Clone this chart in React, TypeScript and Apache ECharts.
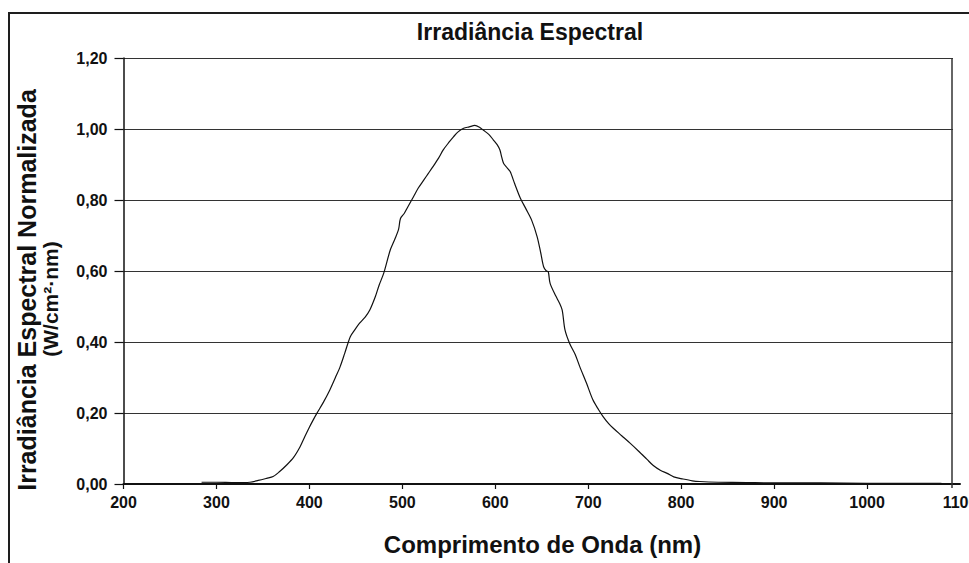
import React, { useEffect, useRef } from "react";
import * as echarts from "echarts";

const chartTitle = "Irradiância Espectral";
const xTitle = "Comprimento de Onda (nm)";
const yTitleLine1 = "Irradiância Espectral Normalizada";
const yTitleLine2 = "(W/cm²·nm)";

const xMin = 200;
const xMax = 1100;
const xStep = 100;
const yMin = 0;
const yMax = 1.2;
const yStep = 0.2;
const xTickValues = [200, 300, 400, 500, 600, 700, 800, 900, 1000];

const wavelengths = [
  284, 300, 320, 336, 345, 354, 361, 368, 375, 383, 390, 395, 400, 404, 408, 415, 422, 428, 433, 438,
  444, 449, 454, 460, 465, 471, 475, 480, 487, 492, 496, 498, 502, 506, 512, 517, 523, 528, 533, 539,
  544, 550, 555, 560, 566, 572, 578, 583, 587, 593, 598, 602, 605, 607, 609, 613, 616, 621, 627, 633,
  639, 645, 649, 652, 655, 657, 659, 665, 669, 672, 675, 680, 686, 691, 698, 705, 711, 716, 722, 727,
  736, 745, 754, 763, 770, 778, 785, 792, 802, 812, 820, 840, 870, 900, 950, 1000, 1050, 1080,
];

const irradiance = [
  0.005, 0.005, 0.004, 0.005, 0.01, 0.016, 0.021, 0.035, 0.052, 0.075, 0.105, 0.133, 0.16, 0.18, 0.199,
  0.23, 0.265, 0.3, 0.33, 0.368, 0.415, 0.435, 0.453, 0.47, 0.49, 0.528, 0.56, 0.594, 0.659, 0.69, 0.718,
  0.748, 0.762, 0.781, 0.809, 0.833, 0.856, 0.875, 0.894, 0.918, 0.941, 0.962, 0.978, 0.992, 1.002, 1.006,
  1.01, 1.005, 0.997, 0.985, 0.969, 0.956, 0.941, 0.92, 0.903, 0.89, 0.88, 0.845, 0.805, 0.775, 0.744,
  0.697, 0.65, 0.612, 0.6, 0.598, 0.565, 0.53, 0.51, 0.49, 0.434, 0.396, 0.365, 0.33, 0.285, 0.237, 0.21,
  0.19, 0.17, 0.157, 0.136, 0.115, 0.093, 0.07, 0.052, 0.038, 0.03, 0.02, 0.014, 0.009, 0.007, 0.005,
  0.004, 0.003, 0.003, 0.002, 0.002, 0.002,
];

const FONT = '"Liberation Sans", Arial, Helvetica, sans-serif';

export default function App() {
  const ref = useRef<HTMLDivElement>(null);

  useEffect(() => {
    if (!ref.current) return;
    const chart = echarts.init(ref.current, null, { renderer: "svg" });
    const data = wavelengths.map((w, i) => [w, irradiance[i]]);

    const centered = {
      align: "center",
      verticalAlign: "middle",
      textAlign: "center",
      textVerticalAlign: "middle",
    };

    chart.setOption({
      animation: false,
      backgroundColor: "#ffffff",
      grid: {
        left: 123.5,
        top: 58,
        width: 836.5,
        height: 426,
        containLabel: false,
        outerBoundsMode: "none",
      },
      xAxis: {
        type: "value",
        min: xMin,
        max: xMax,
        interval: xStep,
        axisLine: { show: true, onZero: false, lineStyle: { color: "#111", width: 2 } },
        axisTick: {
          show: true,
          inside: false,
          length: 5,
          customValues: xTickValues,
          lineStyle: { color: "#111", width: 1.2 },
        },
        axisLabel: {
          show: true,
          margin: 10,
          color: "#111",
          fontFamily: FONT,
          fontWeight: "bold",
          fontSize: 16,
          showMaxLabel: true,
          hideOverlap: false,
          formatter: (v: number) => String(Math.round(v)),
        },
        splitLine: { show: false },
      },
      yAxis: {
        type: "value",
        min: yMin,
        max: yMax,
        interval: yStep,
        axisLine: { show: true, lineStyle: { color: "#111", width: 1.5 } },
        axisTick: { show: true, inside: false, length: 9, lineStyle: { color: "#111", width: 1.2 } },
        axisLabel: {
          margin: 16,
          color: "#111",
          fontFamily: FONT,
          fontWeight: "bold",
          fontSize: 16,
          formatter: (v: number) => v.toFixed(2).replace(".", ","),
        },
        splitLine: { show: true, lineStyle: { color: "#333", width: 1.2 } },
      },
      series: [
        {
          type: "line",
          data,
          showSymbol: false,
          symbol: "none",
          smooth: 0.3,
          lineStyle: { color: "#111", width: 1.2 },
          z: 3,
        },
      ],
      graphic: [
        {
          type: "rect",
          z: 0,
          silent: true,
          shape: { x: 9, y: 13, width: 1000, height: 600 },
          style: { fill: "none", stroke: "#1e1e1e", lineWidth: 2 },
        },
        {
          type: "rect",
          z: 10,
          silent: true,
          shape: { x: 953, y: 56, width: 10, height: 427 },
          style: { fill: "#ffffff", stroke: "none" },
        },
        {
          type: "line",
          z: 11,
          silent: true,
          shape: { x1: 952, y1: 58, x2: 952, y2: 488 },
          style: { stroke: "#333", lineWidth: 1.5 },
        },
        {
          type: "text",
          z: 12,
          x: 530,
          y: 32,
          style: { text: chartTitle, font: `bold 23px ${FONT}`, fill: "#111", ...centered },
        },
        {
          type: "text",
          z: 12,
          x: 542.5,
          y: 544,
          style: { text: xTitle, font: `bold 24px ${FONT}`, fill: "#111", ...centered },
        },
        {
          type: "text",
          z: 12,
          x: 27,
          y: 290,
          rotation: Math.PI / 2,
          style: { text: yTitleLine1, font: `bold 25px ${FONT}`, fill: "#111", ...centered },
        },
        {
          type: "text",
          z: 12,
          x: 50,
          y: 299,
          rotation: Math.PI / 2,
          style: { text: yTitleLine2, font: `bold 21px ${FONT}`, fill: "#111", ...centered },
        },
      ],
    });

    return () => {
      chart.dispose();
    };
  }, []);

  return (
    <div
      ref={ref}
      style={{ position: "fixed", left: 0, top: 0, width: 969, height: 563, background: "#fff" }}
    />
  );
}
